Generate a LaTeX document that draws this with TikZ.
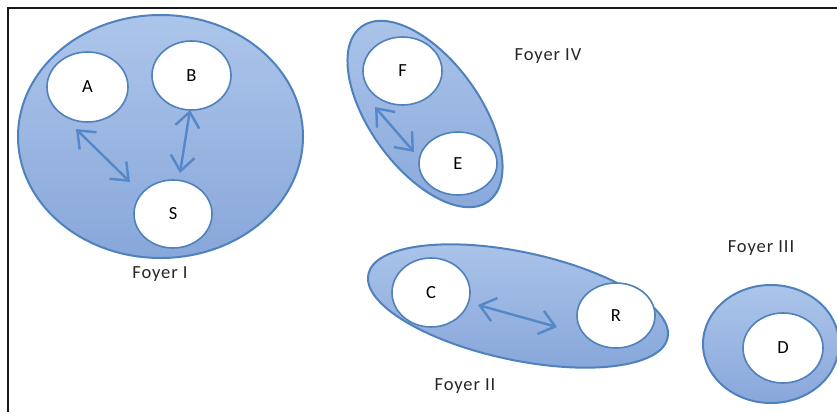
\documentclass[tikz,border=0pt]{standalone}
\usepackage{fontspec}
\setmainfont{Carlito}[LetterSpace=5]
\usetikzlibrary{shapes.geometric,arrows.meta,calc}
\definecolor{bord}{RGB}{79,129,189}
\definecolor{arr}{RGB}{84,136,200}
\definecolor{ftop}{RGB}{172,197,234}
\definecolor{fbot}{RGB}{136,167,218}
\tikzset{
  foyer/.style={ellipse, draw=bord, line width=2pt, top color=ftop, bottom color=fbot, inner sep=0pt},
  member/.style={ellipse, draw=bord, line width=1.6pt, fill=white, inner sep=0pt, font=\fontsize{18.5}{18.5}\selectfont},
  lab/.style={font=\fontsize{18.5}{18.5}\selectfont, text=black!85},
  link/.style={draw=arr, line width=2.4pt, {Straight Barb[length=15pt,width=24pt]}-{Straight Barb[length=15pt,width=24pt]}},
}
\begin{document}
\begin{tikzpicture}[x=1pt,y=-1pt]
\useasboundingbox (0,0) rectangle (837,412);
\clip (0,0) rectangle (837,412);
% frame
\draw[line width=2.5pt, black!90] (8,412) -- (8,8) -- (840,8);
% Foyer I
\node[foyer, minimum width=285, minimum height=243] (F1) at (160.5,136.5) {};
\node[member, minimum width=81, minimum height=70] (A) at (87.5,87) {A};
\node[member, minimum width=79, minimum height=69] (B) at (191.5,75.5) {B};
\node[member, minimum width=78, minimum height=68] (S) at (173,214) {S};
\coordinate (as1) at (76,129);
\coordinate (as2) at (130,182);
\coordinate (bs1) at (190,110);
\coordinate (bs2) at (180,173);
\draw[link] (as1) -- (as2);
\draw[link] (bs1) -- (bs2);
\node[lab] (L1) at (160,274) {Foyer I};
% Foyer IV
\node[foyer, minimum width=216, minimum height=110, rotate=-54] (F4) at (425,114) {};
\node[member, minimum width=79, minimum height=68] (F) at (402.5,71) {F};
\node[member, minimum width=78, minimum height=63] (E) at (458,163.5) {E};
\coordinate (fe1) at (375,107);
\coordinate (fe2) at (414,152);
\draw[link] (fe1) -- (fe2);
\node[lab] (L4) at (548,56) {Foyer IV};
% Foyer II
\node[foyer, minimum width=306, minimum height=108, rotate=-12] (F2) at (518,306) {};
\node[member, minimum width=78, minimum height=69] (C) at (431,292.5) {C};
\node[member, minimum width=78, minimum height=65] (R) at (616,315.5) {R};
\coordinate (cr1) at (478,305);
\coordinate (cr2) at (557,327);
\draw[link] (cr1) -- (cr2);
\node[lab] (L2) at (465,386) {Foyer II};
% Foyer III
\node[foyer, minimum width=136, minimum height=118] (F3) at (771,344) {};
\node[member, minimum width=80, minimum height=70] (D) at (783,348) {D};
\node[lab] (L3) at (761,248) {Foyer III};
\end{tikzpicture}
\end{document}
